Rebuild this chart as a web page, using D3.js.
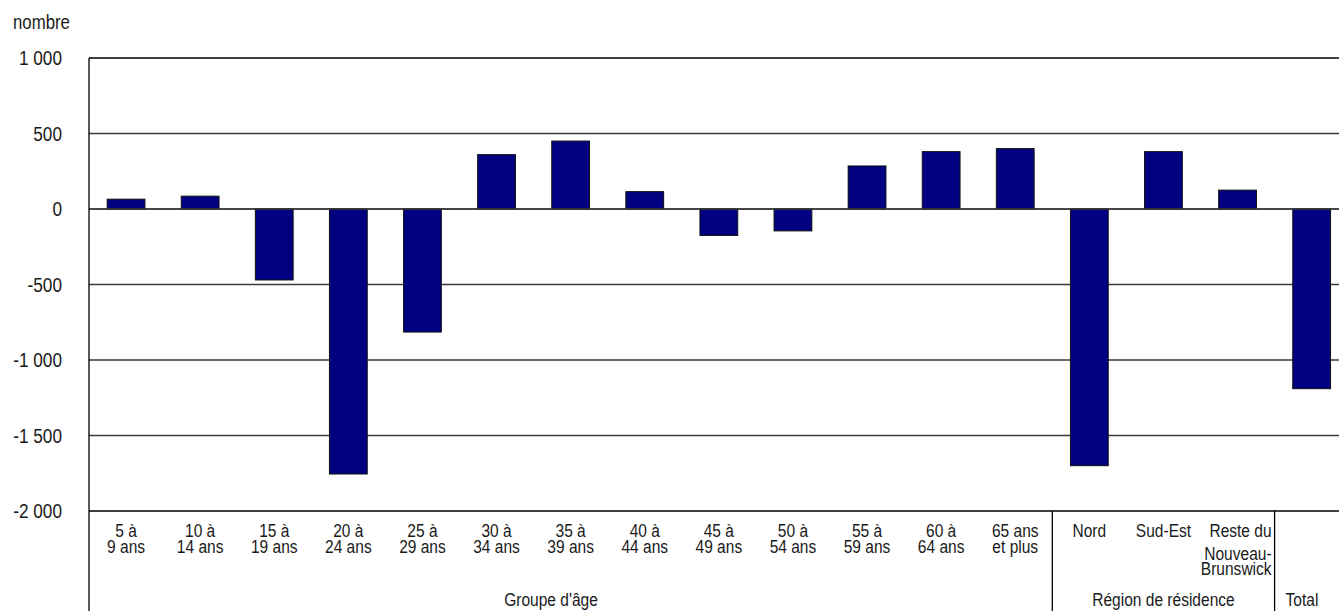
<!DOCTYPE html>
<html>
<head>
<meta charset="utf-8">
<script src="https://cdn.jsdelivr.net/npm/d3@7"></script>
<style>
  html, body { margin: 0; padding: 0; background: #fff; }
  svg text { font-family: "Liberation Sans", Arial, sans-serif; fill: #1a1a1a; }
</style>
</head>
<body>
<svg id="chart" width="1339" height="611"></svg>
<script>
// ---- data ----
const categories = ["5-9", "10-14", "15-19", "20-24", "25-29", "30-34", "35-39", "40-44", "45-49", "50-54", "55-59", "60-64", "65+", "Nord", "Sud-Est", "Reste", "Total"];
const categoryLabels = [
  ["5 à", "9 ans"], ["10 à", "14 ans"], ["15 à", "19 ans"], ["20 à", "24 ans"], ["25 à", "29 ans"],
  ["30 à", "34 ans"], ["35 à", "39 ans"], ["40 à", "44 ans"], ["45 à", "49 ans"], ["50 à", "54 ans"],
  ["55 à", "59 ans"], ["60 à", "64 ans"], ["65 ans", "et plus"],
  ["Nord"], ["Sud-Est"], ["Reste du", "Nouveau-", "Brunswick"], []
];
const values = [65, 85, -470, -1755, -815, 360, 450, 115, -175, -145, 285, 380, 400, -1700, 380, 125, -1190];
const groupNames = ["Groupe d'âge", "Région de résidence", "Total"];
const groupStart = ["5-9", "Nord", "Total"];
const groupEnd = ["65+", "Reste", "Total"];
const yTicks = [-2000, -1500, -1000, -500, 0, 500, 1000];
const yLabel = "nombre";

// ---- layout ----
const svg = d3.select("#chart");
const mLeft = 89, mTop = 58, mBottom = 511, mRight = 89 + 17 * 74.1;
const x = d3.scaleBand().domain(categories).range([mLeft, mRight]).paddingInner(0.49).paddingOuter(0.245);
const y = d3.scaleLinear().domain([-2000, 1000]).range([mBottom, mTop]);
const step = x.step();
const bandStart = c => x(c) - step * 0.245;
const bandEnd = c => bandStart(c) + step;
const SX = 0.84; // horizontal condensing of text

const fmt = v => d3.format(",")(v).replace(/,/g, " ").replace(/\u2212/g, "-");

function addText(parent, px, py, lines, anchor, size, lineYs) {
  const g = parent.append("g").attr("transform", `translate(${px},0) scale(${SX},1)`);
  const t = g.append("text").attr("text-anchor", anchor).attr("font-size", size);
  lines.forEach((s, k) => t.append("tspan").attr("x", 0).attr("y", lineYs ? lineYs[k] : py).attr("dy", "0.35em").text(s));
  return t;
}

// gridlines
svg.append("g").selectAll("line").data(yTicks).join("line")
  .attr("x1", mLeft).attr("x2", 1339)
  .attr("y1", d => y(d)).attr("y2", d => y(d))
  .attr("stroke", d => (d === 1000 || d === -2000) ? "#000" : "#3a3a3a")
  .attr("stroke-width", 1.3);

// y tick labels
const yl = svg.append("g");
yTicks.forEach(d => addText(yl, 62, y(d), [fmt(d)], "end", 20.5));
addText(svg, 13, 22, [yLabel], "start", 20);

// bars
svg.append("g").selectAll("rect").data(categories).join("rect")
  .attr("x", d => x(d))
  .attr("width", x.bandwidth())
  .attr("y", (d, i) => y(Math.max(0, values[i])))
  .attr("height", (d, i) => Math.abs(y(values[i]) - y(0)))
  .attr("fill", "#000080")
  .attr("stroke", "#111")
  .attr("stroke-width", 1);

// zero line over bars
svg.append("line").attr("x1", mLeft).attr("x2", 1339).attr("y1", y(0)).attr("y2", y(0))
  .attr("stroke", "#3a3a3a").attr("stroke-width", 1.3);

// left axis line
svg.append("line").attr("x1", mLeft).attr("x2", mLeft).attr("y1", mTop).attr("y2", 611)
  .attr("stroke", "#000").attr("stroke-width", 1.3);

// group separators
[groupStart[1], groupStart[2]].forEach(c => {
  svg.append("line").attr("x1", bandStart(c)).attr("x2", bandStart(c))
    .attr("y1", mBottom).attr("y2", 611).attr("stroke", "#000").attr("stroke-width", 1.3);
});

// category labels
const lab = svg.append("g");
categories.forEach((c, i) => {
  const lines = categoryLabels[i];
  if (!lines.length) return;
  if (lines.length === 3) {
    addText(lab, bandEnd(c) - 3, 0, lines, "end", 18.5, [531, 554, 569]);
  } else {
    addText(lab, x(c) + x.bandwidth() / 2, 0, lines, "middle", 18.5, lines.map((s, k) => 531 + k * 15.5));
  }
});

// group labels
const groupCenters = [551, (bandStart("Nord") + bandEnd("Reste")) / 2, 1302];
groupNames.forEach((g, i) => addText(lab, groupCenters[i], 600, [g], "middle", 18.5));
</script>
</body>
</html>
